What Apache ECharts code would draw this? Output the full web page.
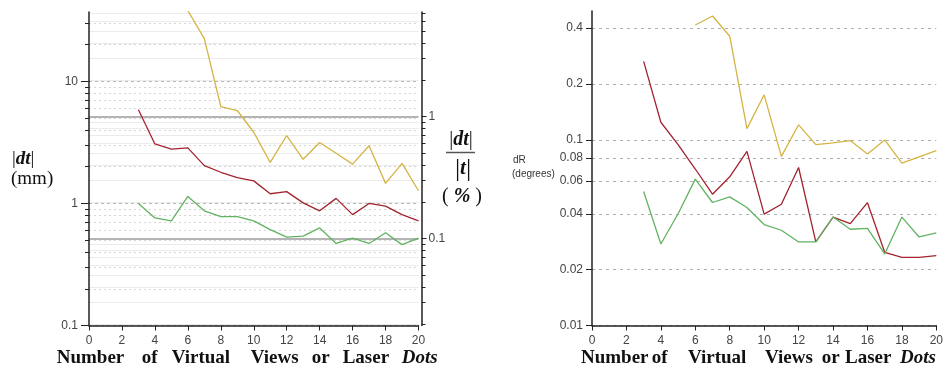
<!DOCTYPE html>
<html><head><meta charset="utf-8">
<script src="https://cdn.jsdelivr.net/npm/echarts@6/dist/echarts.min.js"></script>
<style>html,body{margin:0;padding:0;background:#fff}#c{width:946px;height:374px}</style>
</head><body><div id="c"></div>
<script>
// x positions (number of virtual views / laser dots)
const xFrom3 = [3,4,5,6,7,8,9,10,11,12,13,14,15,16,17,18,19,20];
const xFrom6 = [6,7,8,9,10,11,12,13,14,15,16,17,18,19,20];

// left chart |dt| (mm)
const dtYellow = [38, 22.4, 6.2, 5.77, 3.83, 2.17, 3.6, 2.3, 3.16, 2.58, 2.1, 2.97, 1.46, 2.13, 1.27];
const dtRed    = [5.85, 3.07, 2.79, 2.85, 2.04, 1.8, 1.63, 1.53, 1.2, 1.25, 1.01, 0.87, 1.1, 0.81, 1.0, 0.95, 0.81, 0.72];
const dtGreen  = [1.0, 0.76, 0.72, 1.14, 0.87, 0.78, 0.78, 0.72, 0.61, 0.53, 0.54, 0.63, 0.47, 0.52, 0.47, 0.575, 0.46, 0.52];

// right chart dR (degrees)
const dRYellow = [0.416, 0.465, 0.362, 0.115, 0.175, 0.0815, 0.1206, 0.0943, 0.0963, 0.0992, 0.084, 0.1, 0.075, 0.081, 0.0875];
const dRRed    = [0.265, 0.1245, 0.0943, 0.0697, 0.051, 0.0633, 0.0868, 0.0398, 0.045, 0.071, 0.0282, 0.0384, 0.0354, 0.0459, 0.0248, 0.0233, 0.0233, 0.0238];
const dRGreen  = [0.0527, 0.0275, 0.04, 0.0615, 0.046, 0.0493, 0.0432, 0.035, 0.0326, 0.0282, 0.0282, 0.0384, 0.033, 0.0334, 0.0243, 0.0384, 0.03, 0.0316];

// tick values
const xTickMin = 0, xTickMax = 20, xTickStep = 2;
const mmMin = 0.1, mmMax = 37;
const mmMajor = [0.1, 1, 10];
const mmMinor = [0.2,0.3,0.4,0.5,0.6,0.7,0.8,0.9,2,3,4,5,6,7,8,9,20,30];
const pctMin = 0.01942, pctMax = 7.18;
const pctMajor = [0.1, 1];
const pctMinor = [0.02,0.03,0.04,0.05,0.06,0.07,0.08,0.09,0.2,0.3,0.4,0.5,0.6,0.7,0.8,0.9,2,3,4,5,6,7];
const degMin = 0.01, degMax = 0.495;
const degTicks = [0.01, 0.02, 0.04, 0.06, 0.08, 0.1, 0.2, 0.4];

const C_YEL = '#d4b443', C_RED = '#a3232f', C_GRN = '#62b262';
const fmt = v => String(+(+v).toPrecision(3));
const pairs = (xs, ys) => xs.map((x, i) => [x, ys[i]]);

const axisCol = '#222';
const tickLabel = {color:'#444', fontSize:12, fontFamily:'Liberation Sans, Arial, sans-serif'};

function xAxis(gi){
  return {type:'value', gridIndex:gi, min:xTickMin, max:xTickMax, interval:xTickStep,
    axisLine:{show:true, lineStyle:{color:axisCol, width:1.5}},
    axisTick:{show:true, length:5, lineStyle:{color:axisCol}},
    axisLabel:Object.assign({margin:9}, tickLabel),
    splitLine:{show:false}};
}
function lineSeries(xi, yi, xs, ys, color){
  return {type:'line', xAxisIndex:xi, yAxisIndex:yi, data:pairs(xs, ys), showSymbol:false, symbol:'none',
    lineStyle:{color:color, width:1.3}, itemStyle:{color:color}, clip:true, animation:false, z:5};
}

const serif = 'Liberation Serif, Times New Roman, serif';
function word(x, txt, italic){
  return {type:'text', x:x, y:358, style:{text:txt, fill:'#111',
    font:(italic?'italic ':'') + 'bold 19px ' + serif, verticalAlign:'middle', align:'left'}};
}

const option = {
  animation:false,
  backgroundColor:'#fff',
  grid:[
    {left:89, top:12, width:329.5, height:313.5, containLabel:false},
    {left:592, top:11, width:345, height:314.5, containLabel:false}
  ],
  xAxis:[xAxis(0), xAxis(1)],
  yAxis:[
    // 0: left minor (dotted)
    {type:'log', gridIndex:0, position:'left', min:mmMin, max:mmMax,
      axisLine:{show:false}, axisTick:{show:true, length:4, customValues:mmMinor, lineStyle:{color:axisCol}},
      axisLabel:{show:false}, splitLine:{show:true, lineStyle:{type:[2,3], color:'#d6d6d6', width:1}}},
    // 1: right minor (light solid)
    {type:'log', gridIndex:0, position:'right', offset:3, min:pctMin, max:pctMax,
      axisLine:{show:false}, axisTick:{show:true, length:4, customValues:pctMinor, lineStyle:{color:axisCol}},
      axisLabel:{show:false}, splitLine:{show:true, lineStyle:{type:'solid', color:'#ebebeb', width:1}}},
    // 2: left major
    {type:'log', gridIndex:0, position:'left', min:mmMin, max:mmMax,
      axisLine:{show:true, lineStyle:{color:axisCol, width:1.5}},
      axisTick:{show:true, length:8, customValues:mmMajor, lineStyle:{color:axisCol}},
      axisLabel:Object.assign({customValues:mmMajor, formatter:fmt, margin:11}, tickLabel),
      splitLine:{show:true, lineStyle:{type:[3,3], color:'#b8b8b8', width:1}}},
    // 3: right major
    {type:'log', gridIndex:0, position:'right', offset:3, min:pctMin, max:pctMax,
      axisLine:{show:true, lineStyle:{color:axisCol, width:1.5}},
      axisTick:{show:true, length:5, customValues:pctMajor, lineStyle:{color:axisCol}},
      axisLabel:Object.assign({customValues:pctMajor, formatter:fmt, margin:7}, tickLabel),
      splitLine:{show:true, lineStyle:{type:'solid', color:'#b4b4b4', width:2}}},
    // 4: right chart
    {type:'log', gridIndex:1, position:'left', min:degMin, max:degMax,
      axisLine:{show:true, lineStyle:{color:axisCol, width:1.5}},
      axisTick:{show:true, length:6, customValues:degTicks, lineStyle:{color:axisCol}},
      axisLabel:Object.assign({customValues:degTicks, formatter:fmt, margin:9}, tickLabel),
      splitLine:{show:true, lineStyle:{type:[3,4], color:'#b0b0b0', width:1}}}
  ],
  series:[
    lineSeries(0, 2, xFrom6, dtYellow, C_YEL),
    lineSeries(0, 2, xFrom3, dtRed, C_RED),
    lineSeries(0, 2, xFrom3, dtGreen, C_GRN),
    lineSeries(1, 4, xFrom6, dRYellow, C_YEL),
    lineSeries(1, 4, xFrom3, dRRed, C_RED),
    lineSeries(1, 4, xFrom3, dRGreen, C_GRN)
  ],
  graphic:[
    // left y title
    {type:'text', x:12, y:150, style:{text:'{n||}{b|dt}{n||}', verticalAlign:'top', align:'left', fill:'#111',
      rich:{n:{font:'19px '+serif, fill:'#111'}, b:{font:'italic bold 19px '+serif, fill:'#111'}}}},
    {type:'text', x:11, y:170, style:{text:'(mm)', font:'19px '+serif, fill:'#111', verticalAlign:'top', align:'left'}},
    // right y title (percent)
    {type:'text', x:461, y:130, style:{text:'{n||}{b|dt}{n||}', verticalAlign:'top', align:'center', fill:'#111',
      rich:{n:{font:'20px '+serif, fill:'#111'}, b:{font:'italic bold 20px '+serif, fill:'#111'}}}},
    {type:'line', shape:{x1:446, y1:152.5, x2:475, y2:152.5}, style:{stroke:'#555', lineWidth:1.5}},
    {type:'text', x:463, y:156, style:{text:'{n||}{b|t}{n||}', verticalAlign:'top', align:'center', fill:'#111',
      rich:{n:{font:'26px '+serif, fill:'#111'}, b:{font:'italic bold 21px '+serif, fill:'#111'}}}},
    {type:'text', x:462, y:187, style:{text:'{n|( }{b|%}{n| )}', verticalAlign:'top', align:'center', fill:'#111',
      rich:{n:{font:'20px '+serif, fill:'#111'}, b:{font:'italic bold 20px '+serif, fill:'#111'}}}},
    // right chart y title
    {type:'text', x:513, y:155, style:{text:'dR', font:'10px Liberation Sans, Arial, sans-serif', fill:'#333', verticalAlign:'top'}},
    {type:'text', x:512, y:169, style:{text:'(degrees)', font:'10px Liberation Sans, Arial, sans-serif', fill:'#333', verticalAlign:'top'}},
    // x titles
    word(56.7,'Number'), word(141.7,'of'), word(171.7,'Virtual'), word(250.7,'Views'), word(311.7,'or'), word(342.7,'Laser'), word(401.7,'Dots',true),
    word(581,'Number'), word(651.7,'of'), word(688,'Virtual'), word(765,'Views'), word(821.7,'or'), word(845,'Laser'), word(900,'Dots',true)
  ]
};
const chart = echarts.init(document.getElementById('c'), null, {renderer:'canvas'});
chart.setOption(option);
</script></body></html>
